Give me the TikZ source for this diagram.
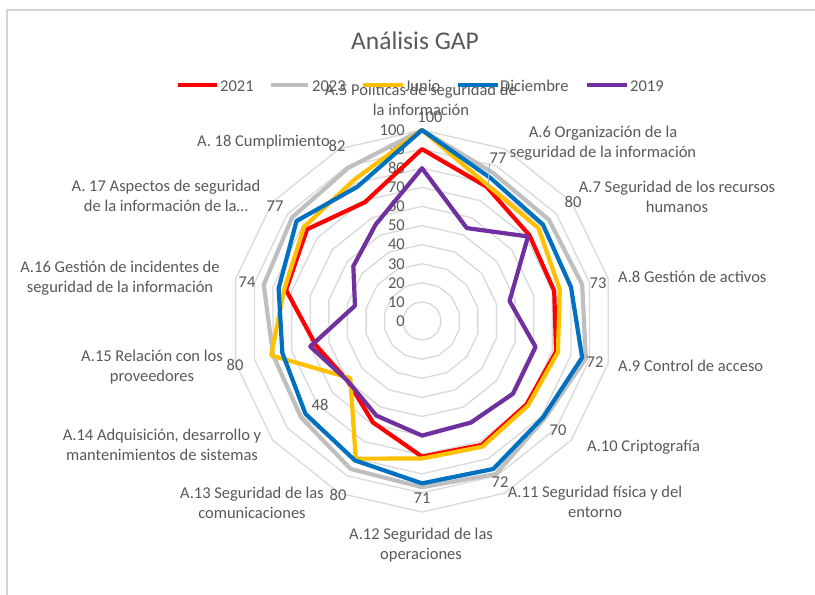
\documentclass[tikz,border=0pt]{standalone}
\usepackage{fontspec}
\setmainfont{Carlito}
\usetikzlibrary{calc}
\definecolor{txt}{HTML}{595959}
\definecolor{gridc}{HTML}{D9D9D9}
\definecolor{sA}{HTML}{FF0000}
\definecolor{sB}{HTML}{BFBFBF}
\definecolor{sC}{HTML}{FFC000}
\definecolor{sD}{HTML}{0070C0}
\definecolor{sE}{HTML}{7030A0}
\definecolor{framec}{HTML}{D4D4D4}
\definecolor{leaderc}{HTML}{9DB7D5}
\def\sc{1.91}
\newcommand\drawseries[2]{%
  \foreach \v [count=\k from 0] in {#2} {
    \coordinate (#1-\k) at ($(C)+({\k*360/14-90}:{\v*\sc})$);
  }
  \draw[series,#1] (#1-0) \foreach \k in {1,...,13}{ -- (#1-\k)} -- cycle;
}
\begin{document}
\begin{tikzpicture}[x=1pt,y=-1pt,
  lbl/.style={text=txt,font=\fontsize{16.5}{20}\selectfont,inner sep=0pt,align=center,anchor=base},
  val/.style={text=txt,font=\fontsize{16.5}{20}\selectfont,inner sep=0pt},
  gridline/.style={draw=gridc,line width=1.3pt},
  series/.style={line width=4.2pt,line join=round},
  legline/.style={line width=4.2pt},
  ]
\fill[white] (0,0) rectangle (815,595);
\useasboundingbox (0,0) rectangle (815,595);
\coordinate (f1) at (7,595);
\coordinate (f2) at (7,10);
\coordinate (f3) at (815,10);
\draw[framec,line width=1.5pt] (f1) -- (f2) -- (f3);
\coordinate (C) at (422,321);
% grid rings
\foreach \i in {1,...,10}{
  \draw[gridline] ($(C)+(-90:{\i*10*\sc})$) \foreach \k in {1,...,13}{ -- ($(C)+({\k*360/14-90}:{\i*10*\sc})$)} -- cycle;
}
% axis tick labels
\foreach \i in {0,...,10}{
  \pgfmathtruncatemacro\tv{\i*10}
  \node[val,anchor=east] (tick\i) at ($(C)+(-17,{-\i*10*\sc})$) {\tv};
}
% series
\drawseries{sA}{90,78,72,71,72,70,72,71,59,50,57,73,77,69}
\drawseries{sB}{100,86,85,86,88,82,89,87,86,81,80,85,87,89}
\drawseries{sC}{100,79,78,74,73,71,73,72,80,48,81,74,79,82}
\drawseries{sD}{100,83,81,80,86,81,86,85,81,78,75,77,84,78}
\drawseries{sE}{80,54,71,47,61,61,59,60,55,50,60,36,46,56}
% data labels
\node[val] (d5) at (430,117) {100};
\node[val] (d6) at (498,158) {77};
\node[val] (d7) at (573,202) {80};
\node[val] (d8) at (598,283) {73};
\node[val] (d9) at (595,362) {72};
\node[val] (d10) at (558,430) {70};
\node[val] (d11) at (500,482) {72};
\node[val] (d12) at (422,498) {71};
\node[val] (d13) at (338,495) {80};
\node[val] (d14) at (320,405) {48};
\node[val] (d15) at (235,365) {80};
\node[val] (d16) at (247,282) {74};
\node[val] (d17) at (275,206) {77};
\node[val] (d18) at (337,146) {82};
\coordinate (ld) at (488,187);
\draw[leaderc,line width=1pt] (ld) -- (d6.south west);
% category labels (base = baseline of last line)
\node[lbl] (a5) at (421,115.5) {A.5 Políticas de seguridad de\\la información};
\node[lbl] (a6) at (603,157) {A.6 Organización de la\\seguridad de la información};
\node[lbl] (a7) at (677,212) {A.7 Seguridad de los recursos\\humanos};
\node[lbl,anchor=base west] (a8) at (618,282.5) {A.8 Gestión de activos};
\node[lbl,anchor=base west] (a9) at (618,371.5) {A.9 Control de acceso};
\node[lbl,anchor=base west] (a10) at (587,451.5) {A.10 Criptografía};
\node[lbl] (a11) at (595,517.5) {A.11 Seguridad física y del\\entorno};
\node[lbl] (a12) at (421,559.5) {A.12 Seguridad de las\\operaciones};
\node[lbl] (a13) at (252,518.5) {A.13 Seguridad de las\\comunicaciones};
\node[lbl] (a14) at (162,460.5) {A.14 Adquisición, desarrollo y\\mantenimientos de sistemas};
\node[lbl] (a15) at (152,381.5) {A.15 Relación con los\\proveedores};
\node[lbl] (a16) at (120,292.5) {A.16 Gestión de incidentes de\\seguridad de la información};
\node[lbl] (a17) at (166,211.5) {A. 17 Aspectos de seguridad\\de la información de la…};
\node[lbl,anchor=base east] (a18) at (330,146.5) {A. 18 Cumplimiento};
% title
\node[text=txt,font=\fontsize{25.5}{30}\selectfont,inner sep=0pt,anchor=base] (title) at (415,49) {Análisis GAP};
% legend
\coordinate (l1a) at (178,85); \coordinate (l1b) at (217,85);
\coordinate (l2a) at (271,85); \coordinate (l2b) at (308,85);
\coordinate (l3a) at (363,85); \coordinate (l3b) at (403,85);
\coordinate (l4a) at (458,85); \coordinate (l4b) at (498,85);
\coordinate (l5a) at (587,85); \coordinate (l5b) at (627,85);
\draw[legline,sA] (l1a) -- (l1b);
\draw[legline,sB] (l2a) -- (l2b);
\draw[legline,sC] (l3a) -- (l3b);
\draw[legline,sD] (l4a) -- (l4b);
\draw[legline,sE] (l5a) -- (l5b);
\node[lbl,anchor=base west] (t1) at (220,91) {2021};
\node[lbl,anchor=base west] (t2) at (312,91) {2023};
\node[lbl,anchor=base west] (t3) at (405,91) {Junio};
\node[lbl,anchor=base west] (t4) at (500,91) {Diciembre};
\node[lbl,anchor=base west] (t5) at (630,91) {2019};
\end{tikzpicture}
\end{document}
